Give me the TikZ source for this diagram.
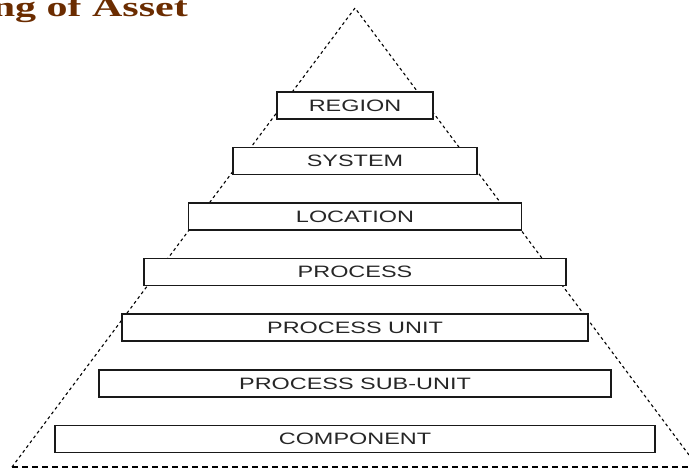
\documentclass[tikz,border=0pt]{standalone}
\usepackage{fontspec}
\setmainfont{Liberation Serif}
\newfontfamily\boxfont[FakeStretch=1.42]{Liberation Sans}
\newfontfamily\titlefont[FakeStretch=1.5]{Liberation Serif}
\usetikzlibrary{positioning}
\definecolor{titlebrown}{HTML}{6B2C00}

\begin{document}
\begin{tikzpicture}[x=1pt, y=-1pt,
            lvl/.style={draw=black!90, line width=1.6pt, fill=white, minimum height=27pt, inner sep=0pt,
              font=\boxfont\fontsize{16.5}{18}\selectfont, text=black!85},
            slope/.style={line width=1.1pt, dash pattern=on 3pt off 3pt},
            base/.style={line width=1.1pt, dash pattern=on 6pt off 4pt}]
            \clip (0,0) rectangle (689,469);
            % Title (cut off)
            \node[anchor=base east, inner sep=0, text=titlebrown,
              font=\titlefont\bfseries\fontsize{28}{30}\selectfont] (title) at (188,16) {ng of Asset};

            % Pyramid outline
            \coordinate (apex) at (355,8);
            \coordinate (lc) at (12,467);
            \coordinate (rc) at (698,467);
            \draw[slope] (lc) -- (apex) -- (rc);
            \draw[base] (lc) -- (rc);

            % Levels
            \foreach \y/\w/\lab [count=\i] in {105.5/156/REGION, 161/244/SYSTEM, 216.5/333/LOCATION,
                272/422/PROCESS, 327.5/466/PROCESS UNIT, 383.5/512/PROCESS SUB-UNIT, 439/600/COMPONENT} {
                \node[lvl, minimum width=\w pt] (lvl\i) at (355,\y) {\lab};
            }
        \end{tikzpicture}
\end{document}
